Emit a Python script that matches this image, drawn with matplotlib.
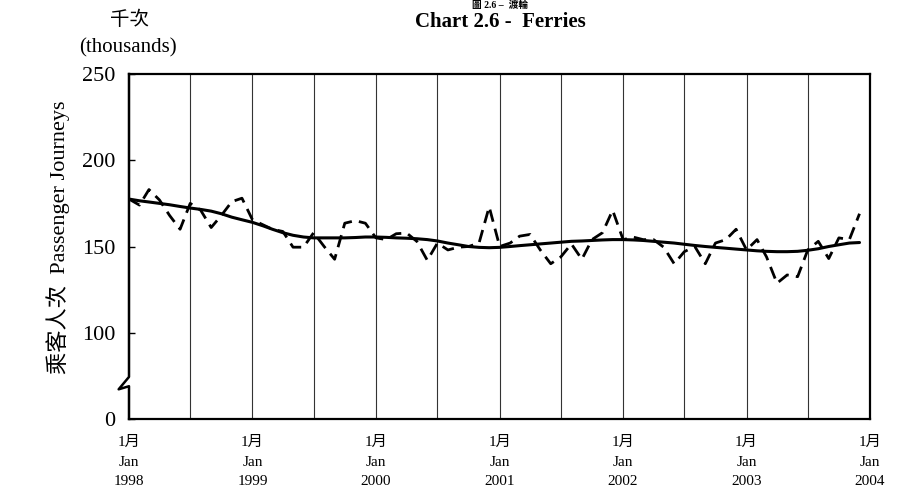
import numpy as np
import pandas as pd
import matplotlib
matplotlib.use('Agg')
import matplotlib.pyplot as plt

plt.rcParams['font.family'] = ['Liberation Serif', 'Noto Sans CJK TC']

# monthly passenger journeys (thousands), Jan 1998 - Dec 2003
journeys = [
    177.5, 174, 183, 177, 168, 160, 175, 171, 161, 168, 176, 178,      # 1998
    165.5, 162.6, 160, 158.7, 149.6, 149.6, 158, 150, 142.6, 163.5, 165, 163.5,  # 1999
    155, 154, 157.4, 157.8, 153, 142, 152, 148, 149.6, 150, 152, 173,  # 2000
    150, 152, 156, 157, 148, 140, 144, 151.5, 142.6, 154, 158, 171,    # 2001
    154, 155.4, 154, 154, 149.6, 140, 147, 150, 140, 152, 154, 160,    # 2002
    148, 154, 144, 128.7, 133.5, 132.5, 148, 153, 143, 155, 154, 169,  # 2003
]

# trend
trend = [
    177.5, 176.5, 175.8, 175, 174.2, 173.2, 172.3, 171.5, 170.5, 169, 167, 165.5,
    164, 162, 160, 158, 156.5, 155.5, 155, 155, 155, 155, 155.2, 155.5,
    155.5, 155.3, 155, 154.8, 154.5, 154, 153.2, 152, 151, 150, 149.5, 149.3,
    149.5, 150, 150.5, 151, 151.5, 152, 152.5, 153, 153.2, 153.5, 153.8, 154,
    154, 153.8, 153.5, 153, 152.5, 152, 151.3, 150.6, 150, 149.5, 149, 148.5,
    148, 147.5, 147.2, 147, 147, 147.2, 147.8, 148.7, 150, 151, 152, 152.3,
]

dates = pd.date_range('1998-01-01', periods=len(journeys), freq='MS')
years = ['1998', '1999', '2000', '2001', '2002', '2003', '2004']
y_ticks = [50, 100, 150, 200, 250]
y_labels = ['0', '100', '150', '200', '250']

fig = plt.figure(figsize=(9.03, 4.96), dpi=100)
ax = fig.add_axes([129/903, 1 - 419/496, 741/903, 345/496])

ax.plot(dates, journeys, color='black', lw=2, linestyle=(0, (4.5, 2.6)))
ax.plot(dates, trend, color='black', lw=2.2, solid_capstyle='round')

x0 = pd.Timestamp('1998-01-01')
x1 = pd.Timestamp('2004-01-01')
ax.set_xlim(x0, x1)
ax.set_ylim(50, 250)

# half-year grid lines
for d in pd.date_range('1998-07-01', '2003-07-01', freq='6MS'):
    ax.axvline(d, color='#333333', lw=0.8, zorder=0)

tick_dates = [pd.Timestamp(y + '-01-01') for y in years]
ax.set_xticks(tick_dates)
ax.set_xticklabels(['1月\nJan\n' + y for y in years], fontsize=11, linespacing=1.68)
ax.tick_params(axis='x', length=0, pad=12)

ax.set_yticks(y_ticks)
ax.set_yticklabels(y_labels, fontsize=16)
ax.tick_params(axis='y', direction='in', length=4, width=1, pad=10)

for s in ['top', 'right', 'bottom']:
    ax.spines[s].set_linewidth(1.6)
ax.spines['left'].set_visible(False)

# left axis with break symbol
bx = [0, 0, -0.014, 0, 0]
by = [1, 0.122, 0.086, 0.095, 0]
ax.plot(bx, by, transform=ax.transAxes, color='black', lw=1.8, clip_on=False)

ax.set_ylabel('乘客人次  Passenger Journeys', fontsize=16)
ax.yaxis.set_label_coords(-59/741, 0.5 + 9/345)

fig.text(130/903, 1 - 20/496, '千次', fontsize=14, ha='center', va='center')
fig.text(128/903, 1 - 48/496, '(thousands)', fontsize=15, ha='center', va='center')
# top line of the title is mostly cut off in the source; keep it small at the edge
fig.text(500/903, 1 - 5/496, '圖 2.6 –  渡輪', fontsize=7, fontweight='bold',
         ha='center', va='center')
fig.text(500/903, 1 - 22/496, 'Chart 2.6 -  Ferries', fontsize=15, fontweight='bold',
         ha='center', va='center')

fig.savefig('out.png', dpi=100)
